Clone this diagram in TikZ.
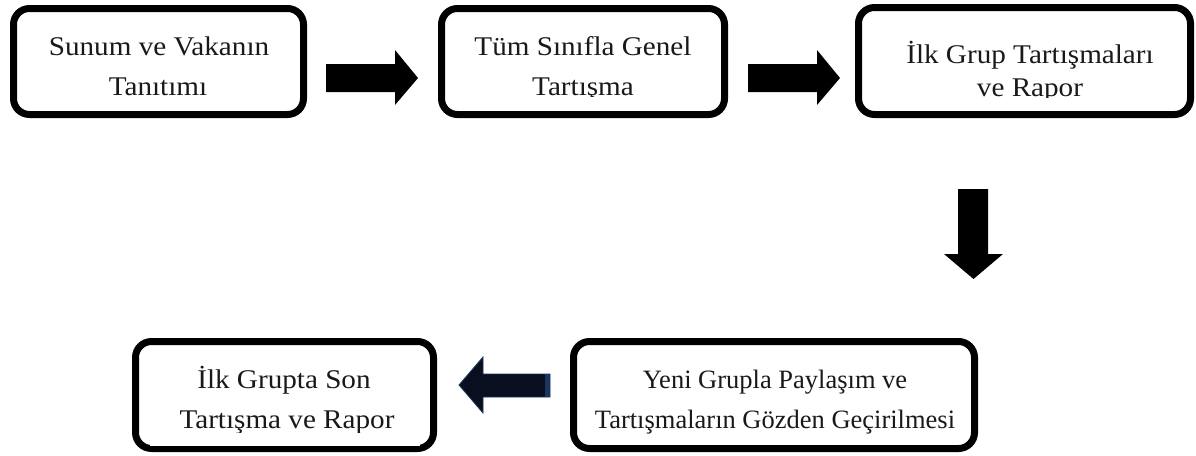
\documentclass[tikz,border=0pt]{standalone}
\usepackage{fontspec}
\setmainfont{Liberation Serif}[FakeStretch=1.08]
\newfontfamily\plainserif{Liberation Serif}
\definecolor{navy}{HTML}{0A0F1F}
\definecolor{navyedge}{HTML}{1C355E}
\tikzset{
  stepbox/.style={draw=black, line width=7pt, rounded corners=16pt, fill=white,
    inner sep=0pt, outer sep=0pt},
  txt/.style={font=\fontsize{27}{31}\selectfont, inner sep=0pt, anchor=base, text=black!90},
  plaintxt/.style={font=\plainserif\fontsize{26.5}{31}\selectfont, inner sep=0pt, anchor=base, text=black!90},
  cover/.style={fill=white, draw=none},
  blockarrow/.style={fill=black, draw=none},
}
\begin{document}
\begin{tikzpicture}[x=1pt,y=-1pt]
\useasboundingbox[fill=white] (0,0) rectangle (1196,455);
% boxes
\node[stepbox, minimum width=290pt, minimum height=106pt] (b1) at (158.5,61.5) {};
\node[stepbox, minimum width=283pt, minimum height=106pt] (b2) at (583,61.5) {};
\node[stepbox, minimum width=332pt, minimum height=107pt] (b3) at (1024.5,61) {};
\node[stepbox, minimum width=298pt, minimum height=107pt] (b5) at (284.5,395) {};
\node[stepbox, minimum width=401pt, minimum height=107pt] (b4) at (774,395) {};
% texts
\node[txt] (b1a) at (159,55) {Sunum ve Vakanın};
\node[txt] (b1b) at (158,95) {Tanıtımı};
\node[txt] (b2a) at (583,55) {Tüm Sınıfla Genel};
\node[txt] (b2b) at (583,95) {Tartışma};
\node[txt] (b3a) at (1030,63) {İlk Grup Tartışmaları};
\node[txt] (b3b) at (1030,96) {ve Rapor};
\node[plaintxt] (b4a) at (775,388) {Yeni Grupla Paylaşım ve};
\node[plaintxt] (b4b) at (775,428) {Tartışmaların Gözden Geçirilmesi};
\node[txt] (b5a) at (284,388) {İlk Grupta Son};
\node[txt] (b5b) at (287,428) {Tartışma ve Rapor};
% clipped descenders of the last lines
\fill[cover] (60,96.5) rectangle (260,110);
\fill[cover] (480,97) rectangle (690,110);
\fill[cover] (900,97.5) rectangle (1160,110);
\fill[cover] (150,432.5) rectangle (420,446);
% arrows
\fill[blockarrow] (326,64) -- (395,64) -- (395,50) -- (418,78) -- (395,105) -- (395,92) -- (326,92) -- cycle;
\fill[blockarrow] (748,64) -- (817,64) -- (817,50) -- (840,78) -- (817,105) -- (817,92) -- (748,92) -- cycle;
\fill[blockarrow] (958,189) -- (988,189) -- (988,254) -- (1003,254) -- (973.5,279) -- (944,254) -- (958,254) -- cycle;
\filldraw[fill=navy, draw=navyedge, line width=0.8pt] (550,374) -- (483,374) -- (483,357) -- (459,385) -- (483,413) -- (483,397) -- (550,397) -- cycle;
\fill[navyedge] (545,374.4) rectangle (549.6,396.6);
\end{tikzpicture}
\end{document}
